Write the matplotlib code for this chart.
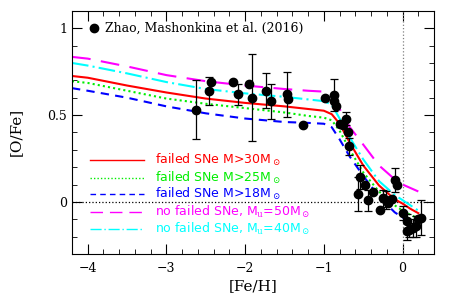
import matplotlib
matplotlib.use("Agg")
import matplotlib.pyplot as plt
from matplotlib.ticker import MultipleLocator, FuncFormatter

plt.rcParams['font.family'] = ['DejaVu Serif']
plt.rcParams['mathtext.fontset'] = 'dejavuserif'

# --- model curves ([Fe/H], [O/Fe]) ---
curve_x = [-4.2, -4.0, -3.5, -3.0, -2.5, -2.0, -1.5, -1.2, -1.0, -0.9, -0.8,
           -0.67, -0.5, -0.3, -0.1, 0.0, 0.1, 0.2]
red_y = [0.725, 0.715, 0.67, 0.63, 0.595, 0.57, 0.55, 0.535, 0.525, 0.505, 0.45,
         0.34, 0.21, 0.095, 0.015, -0.01, -0.04, -0.065]
green_y = [0.695, 0.685, 0.64, 0.595, 0.565, 0.54, 0.515, 0.495, 0.485, 0.47, 0.41,
           0.30, 0.17, 0.06, -0.02, -0.05, -0.075, -0.095]
blue_y = [0.655, 0.64, 0.60, 0.55, 0.51, 0.48, 0.46, 0.455, 0.45, 0.43, 0.36,
          0.26, 0.15, 0.03, -0.06, -0.09, -0.12, -0.145]
magenta_y = [0.835, 0.825, 0.78, 0.73, 0.695, 0.67, 0.65, 0.64, 0.635, 0.615, 0.535,
             0.43, 0.33, 0.21, 0.13, 0.10, 0.08, 0.06]
cyan_y = [0.80, 0.785, 0.74, 0.69, 0.65, 0.625, 0.605, 0.59, 0.58, 0.56, 0.48,
          0.37, 0.245, 0.12, 0.04, 0.01, -0.02, -0.05]

# --- observations: Zhao, Mashonkina et al. (2016) ---
obs_feh = [-2.62, -2.46, -2.44, -2.16, -2.09, -1.95, -1.91, -1.73, -1.67, -1.47,
           -1.46, -1.26, -0.99, -0.87, -0.87, -0.85, -0.79, -0.76, -0.72, -0.69,
           -0.68, -0.57, -0.54, -0.48, -0.44, -0.38, -0.29, -0.25, -0.21, -0.18,
           -0.14, -0.10, -0.07, 0.00, 0.05, 0.06, 0.08, 0.13, 0.17, 0.20, 0.23]
obs_ofe = [0.53, 0.64, 0.69, 0.69, 0.62, 0.68, 0.60, 0.64, 0.58, 0.62,
           0.59, 0.44, 0.60, 0.615, 0.58, 0.55, 0.45, 0.44, 0.48, 0.40,
           0.32, 0.045, 0.145, 0.10, 0.01, 0.055, -0.045, 0.02, 0.01, -0.005,
           0.015, 0.125, 0.10, -0.065, -0.17, -0.11, -0.16, -0.15, -0.14, -0.10, -0.09]
obs_err = [0.17, 0.08, 0.0, 0.0, 0.06, 0.0, 0.25, 0.10, 0.10, 0.13,
           0.0, 0.0, 0.0, 0.09, 0.0, 0.0, 0.0, 0.0, 0.04, 0.0,
           0.05, 0.10, 0.07, 0.0, 0.06, 0.0, 0.0, 0.05, 0.05, 0.0,
           0.0, 0.07, 0.0, 0.04, 0.05, 0.04, 0.04, 0.05, 0.06, 0.0, 0.10]

fig = plt.figure(figsize=(4.63, 3.02), dpi=100)
ax = fig.add_axes([0.1555, 0.159, 0.782, 0.805])

ax.axvline(0, color='gray', ls=':', lw=0.9)
ax.axhline(0, color='black', ls=':', lw=0.9)

lines = [
    (red_y, 'red', '-', r'failed SNe M>30M$_\odot$'),
    (green_y, '#00ee00', (0, (1, 1.5)), r'failed SNe M>25M$_\odot$'),
    (blue_y, 'blue', (0, (4, 3)), r'failed SNe M>18M$_\odot$'),
    (magenta_y, 'magenta', (0, (9, 5)), r'no failed SNe, M$_{\rm u}$=50M$_\odot$'),
    (cyan_y, 'cyan', (0, (8, 2, 1, 2)), r'no failed SNe, M$_{\rm u}$=40M$_\odot$'),
]
for ys, c, ls, lab in lines:
    ax.plot(curve_x, ys, color=c, ls=ls, lw=1.5)

ax.errorbar(obs_feh, obs_ofe, yerr=obs_err, fmt='o', color='black', ms=6,
            ecolor='black', elinewidth=0.9, capsize=3, capthick=0.9)

# legend drawn by hand, like the original
ax.plot([-3.92], [1.0], 'o', color='black', ms=6)
ax.text(-3.78, 1.0, 'Zhao, Mashonkina et al. (2016)', fontsize=9, va='center')
leg_y = [0.24, 0.14, 0.045, -0.06, -0.155]
for (ys, c, ls, lab), yy in zip(lines, leg_y):
    ax.plot([-3.97, -3.28], [yy, yy], color=c, ls=ls, lw=1.0)
    ax.text(-3.14, yy, lab, color=c, fontsize=9, va='center',
            family='DejaVu Sans')

ax.set_xlim(-4.2, 0.4)
ax.set_ylim(-0.3, 1.1)
ax.xaxis.set_major_locator(MultipleLocator(1))
ax.xaxis.set_minor_locator(MultipleLocator(0.2))
ax.yaxis.set_major_locator(MultipleLocator(0.5))
ax.yaxis.set_minor_locator(MultipleLocator(0.1))
ax.yaxis.set_major_formatter(FuncFormatter(lambda v, p: '%g' % v))
ax.tick_params(which='both', direction='in', top=True, right=True, labelsize=9)
ax.tick_params(which='major', length=7)
ax.tick_params(which='minor', length=3.5)
ax.tick_params(axis='x', pad=6)

ax.set_xlabel('[Fe/H]', fontsize=11, labelpad=3)
ax.set_ylabel('[O/Fe]', fontsize=11, labelpad=18)

fig.savefig('out.png', dpi=100)
